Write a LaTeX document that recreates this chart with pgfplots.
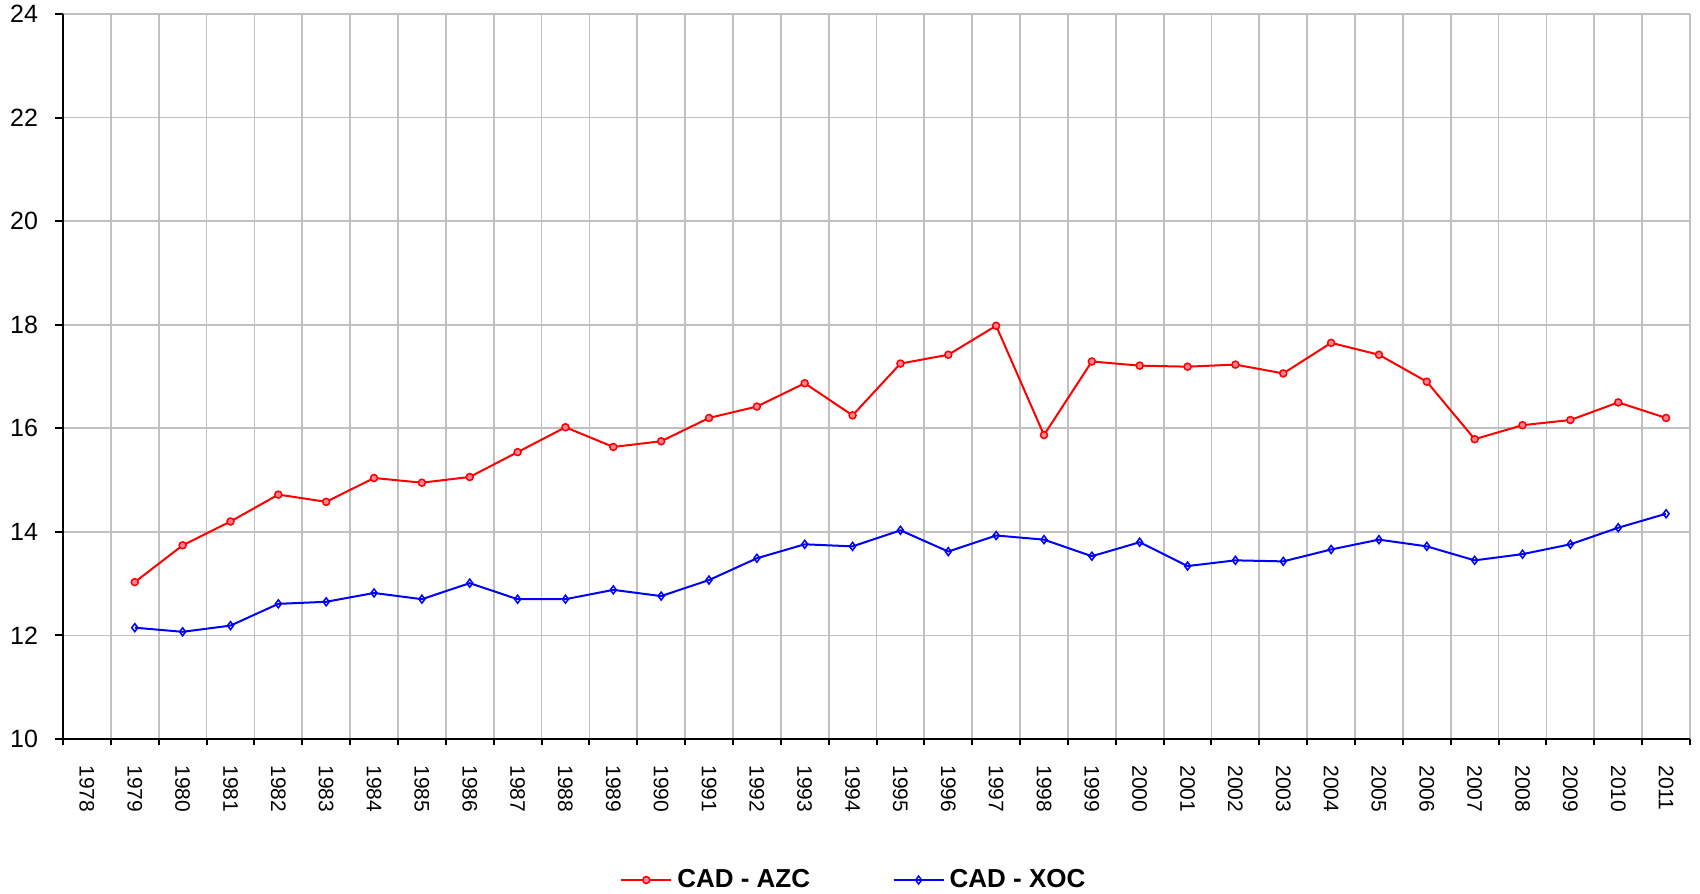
\documentclass[border=0pt]{standalone}
\usepackage{fontspec}
\setmainfont{Liberation Sans}
\usepackage{pgfplots}
\usepackage{pgfplotstable}
\pgfplotsset{compat=1.18}
\usetikzlibrary{calc}
\definecolor{gridc}{RGB}{192,192,192}
\definecolor{azcfill}{RGB}{255,130,150}

% index 0 = 1978 (no data), 1 = 1979 ... 33 = 2011
\pgfplotstableread{
x azc xoc
1 13.03 12.15
2 13.74 12.07
3 14.20 12.19
4 14.72 12.61
5 14.58 12.65
6 15.04 12.82
7 14.95 12.70
8 15.06 13.01
9 15.54 12.70
10 16.02 12.70
11 15.64 12.88
12 15.75 12.76
13 16.20 13.07
14 16.42 13.49
15 16.87 13.76
16 16.25 13.72
17 17.25 14.03
18 17.42 13.62
19 17.98 13.93
20 15.87 13.85
21 17.29 13.53
22 17.21 13.80
23 17.19 13.34
24 17.23 13.45
25 17.06 13.43
26 17.65 13.66
27 17.42 13.85
28 16.90 13.72
29 15.79 13.45
30 16.06 13.57
31 16.16 13.76
32 16.50 14.08
33 16.20 14.35
}\data

\begin{document}
\begin{tikzpicture}
\begin{axis}[
  scale only axis, width=650.8pt, height=290pt,
  xmin=-0.5, xmax=33.5, ymin=10, ymax=24,
  ytick={10,12,...,24},
  xtick={0,...,33},
  xticklabels={1978,1979,1980,1981,1982,1983,1984,1985,1986,1987,1988,1989,1990,1991,1992,1993,1994,1995,1996,1997,1998,1999,2000,2001,2002,2003,2004,2005,2006,2007,2008,2009,2010,2011},
  minor xtick={-0.5,0.5,...,33.5},
  major x tick style={draw=none},
  xmajorgrids=false, xminorgrids=true, ymajorgrids=true,
  grid style={draw=gridc, line width=0.7pt},
  axis lines=left,
  axis line style={-, black, line width=0.8pt},
  tick align=outside,
  major tick length=3pt, minor tick length=2.5pt,
  tick style={black, line width=0.8pt},
  /pgf/number format/assume math mode=true,
  yticklabel style={font=\fontsize{10}{12}\selectfont, xshift=-3.5pt},
  xticklabel style={font=\fontsize{8.4}{10}\selectfont, rotate=-90, anchor=west, xshift=4pt},
  legend style={at={(0.487,-0.1945)}, anchor=center, draw=none,
    font=\bfseries\fontsize{10.4}{12}\selectfont,
    /tikz/every even column/.append style={column sep=31pt}},
  legend columns=2,
  legend cell align=left,
  legend image code/.code={
    \draw[#1] (0pt,0pt) -- (20pt,0pt);
    \draw[#1, mark repeat=2, mark phase=2] plot coordinates {(0pt,0pt) (10pt,0pt) (20pt,0pt)};
  },
  clip=false,
]
\addplot[red, line width=0.8pt, mark=*, mark size=1.4pt,
  mark options={draw=red, fill=azcfill, line width=0.6pt}] table[x=x, y=azc] {\data};
\addlegendentry{CAD - AZC}
\addplot[blue, line width=0.8pt, mark=diamond, mark size=1.6pt,
  mark options={draw=blue, fill=white, line width=0.6pt}] table[x=x, y=xoc] {\data};
\addlegendentry{CAD - XOC}
\end{axis}
\pgfresetboundingbox
\path[use as bounding box] ($(current axis.south west)+(-25.2pt,-61.6pt)$) rectangle ($(current axis.north east)+(4pt,5.6pt)$);
\end{tikzpicture}
\end{document}
